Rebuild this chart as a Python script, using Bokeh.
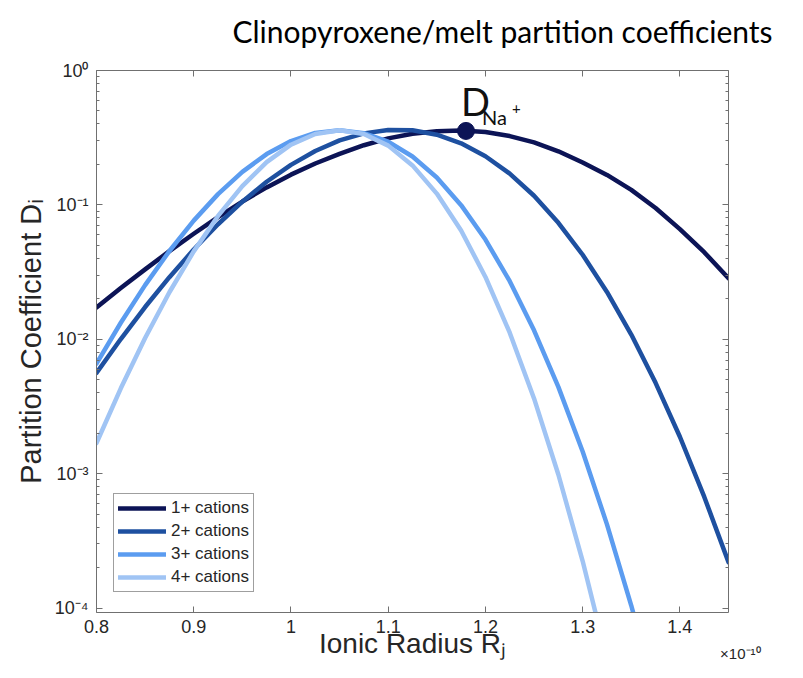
from bokeh.plotting import figure
from bokeh.models import (Range1d, FixedTicker, LinearAxis, LogAxis, Label,
                          Legend, LegendItem, ColumnDataSource, Title)
from bokeh.embed import file_html
from bokeh.resources import INLINE

# ---------------- data ----------------
title_text = "Clinopyroxene/melt partition coefficients"
x_label_text = "Ionic Radius R\u2c7c"
y_label_text = "Partition Coefficient D\u1d62"
x_scale_note = "\u00d710\u207b\u00b9\u2070"

series_names = ["1+ cations", "2+ cations", "3+ cations", "4+ cations"]
series_colors = ["#0c1456", "#1e50a0", "#5b9cf0", "#a0c4f4"]

radius_1plus = [0.800, 0.825, 0.850, 0.875, 0.900, 0.925, 0.950, 0.975, 1.000,
                1.025, 1.050, 1.075, 1.100, 1.125, 1.150, 1.175, 1.200, 1.225,
                1.250, 1.275, 1.300, 1.325, 1.350, 1.375, 1.400, 1.425, 1.450]
log10_D_1plus = [-1.764, -1.619, -1.480, -1.344, -1.215, -1.091, -0.975, -0.870,
                 -0.775, -0.692, -0.620, -0.556, -0.505, -0.471, -0.452, -0.447,
                 -0.457, -0.488, -0.535, -0.601, -0.685, -0.777, -0.888, -1.023,
                 -1.180, -1.352, -1.545]

radius_2plus = [0.800, 0.825, 0.850, 0.875, 0.900, 0.925, 0.950, 0.975, 1.000,
                1.025, 1.050, 1.075, 1.100, 1.125, 1.150, 1.175, 1.200, 1.225,
                1.250, 1.275, 1.300, 1.325, 1.350, 1.375, 1.400, 1.425, 1.450]
log10_D_2plus = [-2.250, -1.998, -1.760, -1.538, -1.332, -1.144, -0.976, -0.828,
                 -0.702, -0.599, -0.520, -0.468, -0.442, -0.445, -0.478, -0.542,
                 -0.638, -0.767, -0.932, -1.133, -1.371, -1.648, -1.965, -2.324,
                 -2.725, -3.171, -3.658]

radius_3plus = [0.800, 0.825, 0.850, 0.875, 0.900, 0.925, 0.950, 0.975, 1.000,
                1.025, 1.050, 1.075, 1.100, 1.125, 1.150, 1.175, 1.200, 1.225,
                1.250, 1.275, 1.300, 1.325, 1.350, 1.375]
log10_D_3plus = [-2.180, -1.877, -1.597, -1.343, -1.117, -0.920, -0.754, -0.622,
                 -0.525, -0.465, -0.445, -0.466, -0.530, -0.640, -0.796, -1.002,
                 -1.258, -1.568, -1.933, -2.354, -2.835, -3.377, -3.981, -4.650]

radius_4plus = [0.800, 0.825, 0.850, 0.875, 0.900, 0.925, 0.950, 0.975, 1.000,
                1.025, 1.050, 1.075, 1.100, 1.125, 1.150, 1.175, 1.200, 1.225,
                1.250, 1.275, 1.300, 1.325]
log10_D_4plus = [-2.772, -2.365, -1.990, -1.650, -1.346, -1.082, -0.860, -0.682,
                 -0.552, -0.472, -0.445, -0.473, -0.559, -0.706, -0.916, -1.191,
                 -1.536, -1.951, -2.440, -3.006, -3.650, -4.376]

na_label_main = "D"
na_label_sub = "Na"
na_label_sup = "+"
na_radius = 1.18
na_D = 0.355

x_ticks = [0.8, 0.9, 1.0, 1.1, 1.2, 1.3, 1.4]
x_tick_labels = ["0.8", "0.9", "1", "1.1", "1.2", "1.3", "1.4"]
y_ticks = [1e-4, 1e-3, 1e-2, 1e-1, 1.0]
y_tick_labels = ["10\u207b\u2074", "10\u207b\u00b3", "10\u207b\u00b2", "10\u207b\u00b9", "10\u2070"]
y_minor_ticks = [m * t for t in y_ticks[:-1] for m in range(2, 10)]

x_min, x_max = 0.8, 1.45
y_min, y_max = 9.27e-5, 1.0

# ---------------- figure ----------------
AX_FONT = "Liberation Sans"
AX_COLOR = "#707070"
TXT_COLOR = "#262626"

p = figure(width=787, height=662,
           x_range=Range1d(x_min, x_max), y_range=Range1d(y_min, y_max),
           y_axis_type="log", output_backend="svg", toolbar_location=None,
           min_border_left=96, min_border_right=59,
           min_border_top=70, min_border_bottom=50)
p.outline_line_color = None
p.xgrid.visible = False
p.ygrid.visible = False
p.background_fill_color = "white"
p.border_fill_color = "white"


def style_axis(ax):
    ax.axis_line_color = AX_COLOR
    ax.axis_line_width = 1
    ax.major_tick_line_color = AX_COLOR
    ax.minor_tick_line_color = AX_COLOR
    ax.major_tick_in = 6
    ax.major_tick_out = 0
    ax.minor_tick_in = 3
    ax.minor_tick_out = 0
    ax.major_label_text_font = AX_FONT
    ax.major_label_text_font_size = "18px"
    ax.major_label_text_color = TXT_COLOR
    ax.axis_label_text_font = AX_FONT
    ax.axis_label_text_font_size = "29px"
    ax.axis_label_text_font_style = "normal"
    ax.axis_label_text_color = TXT_COLOR


xax = p.xaxis[0]
xax.ticker = FixedTicker(ticks=x_ticks, minor_ticks=[])
xax.major_label_overrides = dict(zip(x_ticks, x_tick_labels))
style_axis(xax)
xax.major_label_standoff = 7

yax = p.yaxis[0]
yax.ticker = FixedTicker(ticks=y_ticks, minor_ticks=y_minor_ticks)
yax.major_label_overrides = dict(zip(y_ticks, y_tick_labels))
yax.axis_label = y_label_text
style_axis(yax)
yax.major_label_standoff = 8
yax.axis_label_standoff = 5

top_ax = LinearAxis(ticker=FixedTicker(ticks=x_ticks, minor_ticks=[]),
                    major_label_overrides={t: "" for t in x_ticks})
style_axis(top_ax)
top_ax.major_label_text_font_size = "1px"
top_ax.major_label_standoff = 0
p.add_layout(top_ax, "above")

# small empty spacer between the top axis and the title
spacer = Title(text=" ", text_font_size="1px", standoff=6)
p.add_layout(spacer, "above")

right_ax = LogAxis(ticker=FixedTicker(ticks=y_ticks, minor_ticks=y_minor_ticks),
                   major_label_overrides={t: "" for t in y_ticks})
style_axis(right_ax)
right_ax.major_label_text_font_size = "1px"
right_ax.major_label_standoff = 0
p.add_layout(right_ax, "right")

# title (above) and bottom texts (below the x axis)
p.title.text = title_text
p.title.align = "left"
p.title.vertical_align = "top"
p.title.offset = 136
p.title.standoff = 22
p.title.text_font = "Lato"
p.title.text_font_size = "30px"
p.title.text_font_style = "normal"
p.title.text_color = "#000000"

x_label_title = Title(text=x_label_text, align="center", vertical_align="top",
                      standoff=-15, text_font=AX_FONT, text_font_size="28px",
                      text_font_style="normal", text_color=TXT_COLOR)
p.add_layout(x_label_title, "below")

x_note_title = Title(text=x_scale_note, align="right", vertical_align="top",
                     standoff=-18, offset=-32, text_font=AX_FONT,
                     text_font_size="15px", text_font_style="normal",
                     text_color=TXT_COLOR)
p.add_layout(x_note_title, "below")

# ---------------- curves ----------------
all_x = [radius_1plus, radius_2plus, radius_3plus, radius_4plus]
all_logD = [log10_D_1plus, log10_D_2plus, log10_D_3plus, log10_D_4plus]

items = []
for name, color, xs, ls in zip(series_names, series_colors, all_x, all_logD):
    src = ColumnDataSource(dict(x=xs, y=[10 ** v for v in ls]))
    r = p.line("x", "y", source=src, line_color=color, line_width=4.5,
               line_join="round", line_cap="round")
    items.append(LegendItem(label=name, renderers=[r]))

p.scatter([na_radius], [na_D], size=17, marker="circle",
          fill_color=series_colors[0], line_color=series_colors[0])

legend = Legend(items=items, location=(17, 20))
legend.label_text_font = AX_FONT
legend.label_text_font_size = "17px"
legend.label_text_color = TXT_COLOR
legend.glyph_width = 48
legend.glyph_height = 20
legend.label_height = 20
legend.label_standoff = 5
legend.spacing = 3
legend.padding = 4
legend.margin = 0
legend.border_line_color = "#404040"
legend.border_line_width = 1
legend.background_fill_color = "white"
legend.background_fill_alpha = 1.0
p.add_layout(legend)

# ---------------- D_Na+ annotation ----------------
p.add_layout(Label(x=na_radius, y=na_D, x_offset=-5, y_offset=30,
                   text=na_label_main, text_font="Lato", text_font_size="38px",
                   text_color="#111111", text_baseline="alphabetic"))
p.add_layout(Label(x=na_radius, y=na_D, x_offset=16, y_offset=14,
                   text=na_label_sub, text_font="Lato", text_font_size="20px",
                   text_color="#111111", text_baseline="alphabetic"))
p.add_layout(Label(x=na_radius, y=na_D, x_offset=46, y_offset=22,
                   text=na_label_sup, text_font="Lato", text_font_size="15px",
                   text_color="#111111", text_baseline="alphabetic"))

open("out.html", "w").write(file_html(p, INLINE))
